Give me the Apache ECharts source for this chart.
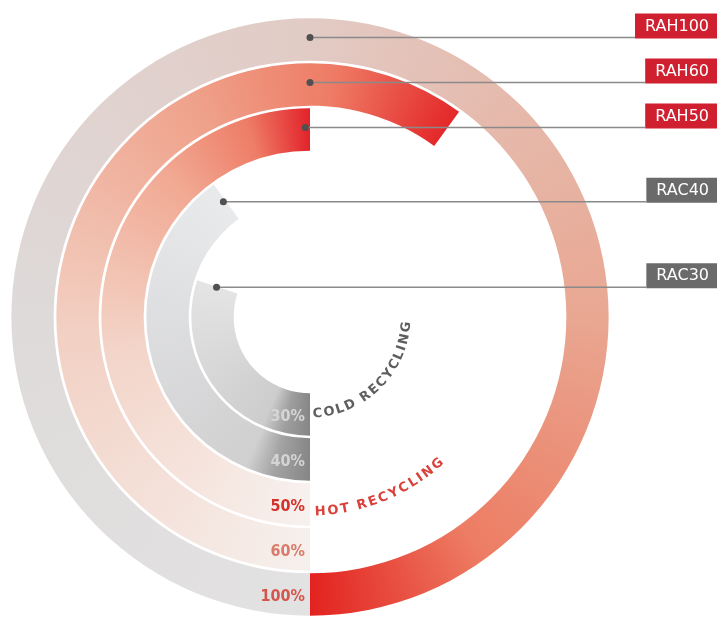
<!DOCTYPE html>
<html><head><meta charset="utf-8">
<script src="https://cdn.jsdelivr.net/npm/echarts@6/dist/echarts.min.js"></script>
<style>html,body{margin:0;padding:0;background:#fff}#c{width:717px;height:620px}</style>
</head><body><div id="c"></div>
<script>
// ---- data ----
const categories = ['RAC30', 'RAC40', 'RAH50', 'RAH60', 'RAH100'];
const values = [30, 40, 50, 60, 100];
const percentLabels = ['30%', '40%', '50%', '60%', '100%'];
const groupNames = ['COLD RECYCLING', 'HOT RECYCLING'];

// ---- layout / style ----
const W = 717, H = 620, CX = 310, CY = 317;
const FONT = "'DejaVu Sans Condensed','Liberation Sans Narrow','DejaVu Sans',sans-serif";
const FONT_W = "'DejaVu Sans','Liberation Sans',sans-serif";
const ringStops = {
  RAC30: [[0, '#868686'], [0.12, '#9f9f9f'], [0.22, '#cdcdcd'], [1, '#e4e4e5']],
  RAC40: [[0, '#868686'], [0.09, '#a3a3a3'], [0.16, '#d0d0d1'], [1, '#e9eaec']],
  RAH50: [[0, '#f7f1ee'], [0.45, '#f3d4c8'], [0.75, '#f1a993'], [0.9, '#ee7d67'], [1, '#e2232a']],
  RAH60: [[0, '#f6f0ed'], [0.4, '#f2d0c3'], [0.7, '#efa28b'], [0.86, '#ee7b65'], [1, '#e4282a']],
  RAH100: [[0, '#e3e2e2'], [0.25, '#dedada'], [0.5, '#e2cbc5'], [0.75, '#e9a792'], [0.9, '#ed7d64'], [1, '#e3221f']]
};
const boxColor = n => n.indexOf('RAH') === 0 ? '#d01f2e' : '#6a6a6a';
const pctColors = ['#d6d6d6', '#d4d4d4', '#d4312b', '#d97b6b', '#d5544b'];

function conicPattern(value, stops) {
  const c = document.createElement('canvas');
  c.width = W; c.height = H;
  const ctx = c.getContext('2d');
  const g = ctx.createConicGradient(Math.PI / 2, CX, CY);
  const f = value / 100;
  stops.forEach(([t, col]) => g.addColorStop(Math.min(t * f, 1), col));
  ctx.fillStyle = g;
  ctx.fillRect(0, 0, W, H);
  return { image: c, repeat: 'no-repeat' };
}

const chart = echarts.init(document.getElementById('c'), null, { renderer: 'canvas' });
chart.setOption({
  animation: false,
  backgroundColor: '#ffffff',
  polar: { center: [CX, CY], radius: [75, 300] },
  angleAxis: { type: 'value', min: 0, max: 100, startAngle: 270, clockwise: true, show: false },
  radiusAxis: { type: 'category', data: categories, show: false },
  series: [{
    type: 'bar',
    coordinateSystem: 'polar',
    barCategoryGap: '6%',
    data: values.map((v, i) => ({ value: v, itemStyle: { color: conicPattern(v, ringStops[categories[i]]) } })),
    emphasis: { disabled: true }
  }]
});

const mctx = document.createElement('canvas').getContext('2d');
function measure(t, font) { mctx.font = font; return mctx.measureText(t).width; }

const graphics = [];
// leader lines, dots, name boxes
const boxFont = 'normal 16px ' + FONT_W;
const textRight = 709;
categories.forEach((name, i) => {
  const ang = Math.min(values[i] - 0.4, 50);
  const p = chart.convertToPixel({ polarIndex: 0 }, [i, ang]);
  const py = p[1] - 2;
  const tw = measure(name, boxFont);
  const bx = textRight - tw - 10;
  graphics.push({ type: 'rect', shape: { x: bx, y: py - 24, width: W - bx + 5, height: 25 }, style: { fill: boxColor(name) }, z: 10 });
  graphics.push({ type: 'text', x: textRight, y: py - 11, style: { text: name, fill: '#ffffff', font: boxFont, textAlign: 'right', textVerticalAlign: 'middle' }, z: 11 });
  graphics.push({ type: 'line', shape: { x1: p[0], y1: py, x2: bx, y2: py }, style: { stroke: '#8a8a8a', lineWidth: 1.5 }, z: 10 });
  graphics.push({ type: 'circle', shape: { cx: p[0], cy: py, r: 3.5 }, style: { fill: '#505050' }, z: 11 });
  // percent label at ring start
  const s = chart.convertToPixel({ polarIndex: 0 }, [i, 0]);
  graphics.push({ type: 'text', x: s[0] - 5, y: s[1] + 2, style: { text: percentLabels[i], fill: pctColors[i], font: 'bold 16px ' + FONT, textAlign: 'right', textVerticalAlign: 'middle' }, z: 11 });
});

// curved group names
function arcText(text, r, a0deg, a1deg, font, color) {
  const chars = [...text];
  const w = chars.map(ch => measure(ch, font));
  const n = chars.length;
  const arcLen = (a1deg - a0deg) * Math.PI / 180 * r;
  const natural = w.reduce((a, b) => a + b, 0) - w[0] / 2 - w[n - 1] / 2;
  const extra = (arcLen - natural) / (n - 1);
  let s = 0;
  chars.forEach((ch, k) => {
    if (k > 0) s += w[k - 1] / 2 + w[k] / 2 + extra;
    const phi = a0deg * Math.PI / 180 + s / r;
    graphics.push({
      type: 'text', x: CX + r * Math.sin(phi), y: CY + r * Math.cos(phi), rotation: phi,
      style: { text: ch, fill: color, font: font, textAlign: 'center', textVerticalAlign: 'middle' }, z: 11
    });
  });
}
arcText(groupNames[0], 97, 4.5, 84, 'bold 13px ' + FONT_W, '#5e5e5e');
arcText(groupNames[1], 195, 3, 41, 'bold 13px ' + FONT_W, '#d9413a');

chart.setOption({ graphic: graphics });
</script>
</body></html>
